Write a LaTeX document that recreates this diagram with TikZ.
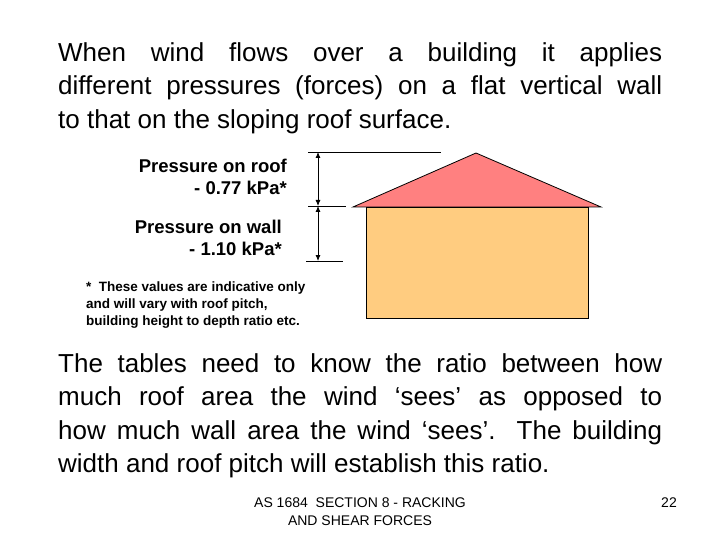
\documentclass[tikz,border=0pt]{standalone}
\usepackage{fontspec}
\setmainfont{Liberation Sans}
\usetikzlibrary{arrows.meta}
\newcommand{\jl}[1]{\makebox[604pt][s]{#1}}
\begin{document}
\begin{tikzpicture}[x=1pt,y=-1pt,
  body/.style={inner sep=0pt,anchor=north west,align=left,font=\fontsize{26}{33.5}\selectfont},
  lbl/.style={inner sep=0pt,align=right,font=\bfseries\fontsize{18.5}{22}\selectfont},
  ln/.style={line width=0.8pt},
  dim/.style={line width=0.8pt,{Latex[length=6pt,width=5pt]}-{Latex[length=6pt,width=5pt]}}]
\useasboundingbox (0,0) rectangle (720,540);
\node[body] (t1) at (58,42) {\jl{When wind flows over a building it applies}\\\jl{different pressures (forces) on a flat vertical wall}\\to that on the sloping roof surface.};
\node[body] (t2) at (58,353) {\jl{The tables need to know the ratio between how}\\\jl{much roof area the wind `sees' as opposed to}\\\jl{how much wall area the wind `sees'. The building}\\width and roof pitch will establish this ratio.};
% house
\draw[ln,fill={rgb,255:red,255;green,204;blue,128}] (366,207) rectangle (588,318);
\draw[ln,fill={rgb,255:red,255;green,128;blue,128}] (353,207) -- (476,153) -- (601,207) -- cycle;
% dimension lines
\coordinate (a1) at (308,152); \coordinate (a2) at (441,152);
\coordinate (b1) at (308,206); \coordinate (b2) at (346,206);
\coordinate (c1) at (306,261); \coordinate (c2) at (343,261);
\draw[ln] (a1) -- (a2); \draw[ln] (b1) -- (b2); \draw[ln] (c1) -- (c2);
\coordinate (d1) at (318,152); \coordinate (d2) at (318,206); \coordinate (d3) at (318,261);
\draw[dim] (d1) -- (d2);
\draw[dim] (d2) -- (d3);
\node[lbl,anchor=north east] (l1) at (287,159) {Pressure on roof\\- 0.77 kPa*};
\node[lbl,anchor=north east] (l2) at (282,220) {Pressure on wall\\- 1.10 kPa*};
\node[inner sep=0pt,anchor=north west,align=left,font=\bfseries\fontsize{13.5}{17}\selectfont] (fn) at (86,282) {*\ \ These values are indicative only\\and will vary with roof pitch,\\building height to depth ratio etc.};
\node[inner sep=0pt,align=center,font=\fontsize{14}{18}\selectfont] (ft) at (360,512) {AS 1684 \ SECTION 8 - RACKING\\AND SHEAR FORCES};
\node[inner sep=0pt,font=\fontsize{14}{18}\selectfont] (pg) at (669,503) {22};
\end{tikzpicture}
\end{document}
